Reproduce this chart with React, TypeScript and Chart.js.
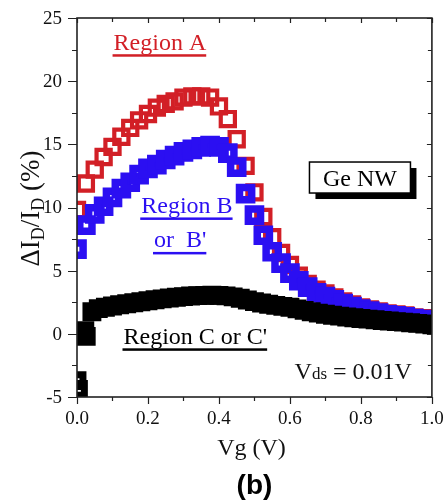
import React, { useEffect, useRef } from 'react';
import { Chart, registerables } from 'chart.js';

Chart.register(...registerables);

const SERIF = "'Liberation Serif', 'Times New Roman', Times, serif";
const SANS = "'Liberation Sans', Arial, Helvetica, sans-serif";

const RED = '#d21f26';
const BLUE = '#2b0ff2';
const BLACK = '#000000';

// Gate voltage (V) for regions A and B
const vgAB = [
  0, 0.025, 0.05, 0.075, 0.1, 0.125, 0.15, 0.175, 0.2, 0.225, 0.25, 0.275, 0.3, 0.325,
  0.35, 0.375, 0.4, 0.425, 0.45, 0.475, 0.5, 0.525, 0.55, 0.575, 0.6, 0.625, 0.65, 0.675,
  0.7, 0.725, 0.75, 0.775, 0.8, 0.825, 0.85, 0.875, 0.9, 0.925, 0.95, 0.975, 1.0,
];

// ΔI_D/I_D (%) for region A
const regionA = [
  9.8, 11.9, 13.0, 14.0, 14.8, 15.6, 16.3, 16.9, 17.4, 17.9, 18.2, 18.4, 18.7, 18.8,
  18.8, 18.7, 18.0, 17.0, 15.4, 13.3, 11.2, 9.25, 7.65, 6.4, 5.45, 4.6, 3.95, 3.5,
  3.2, 2.89, 2.57, 2.33, 2.1, 1.94, 1.78, 1.62, 1.54, 1.46, 1.3, 1.23, 1.15,
];

// ΔI_D/I_D (%) for region B / B'
const regionB = [
  6.7, 8.6, 9.5, 10.1, 10.8, 11.5, 12.0, 12.6, 13.1, 13.4, 13.8, 14.1, 14.4, 14.6,
  14.8, 14.9, 14.8, 14.3, 13.2, 11.1, 9.4, 7.8, 6.5, 5.6, 4.8, 4.2, 3.7, 3.25,
  2.95, 2.7, 2.4, 2.15, 1.95, 1.8, 1.65, 1.5, 1.42, 1.35, 1.2, 1.12, 1.05,
];

// Gate voltage (V) for region C
const vgC = [
  0, 0.004, 0.022, 0.026, 0.042,
  0.06, 0.08, 0.1, 0.12, 0.14, 0.16, 0.18, 0.2, 0.22, 0.24, 0.26, 0.28, 0.3, 0.32,
  0.34, 0.36, 0.38, 0.4, 0.42, 0.44, 0.46, 0.48, 0.5, 0.52, 0.54, 0.56, 0.58, 0.6,
  0.62, 0.64, 0.66, 0.68, 0.7, 0.72, 0.74, 0.76, 0.78, 0.8, 0.82, 0.84, 0.86, 0.88,
  0.9, 0.92, 0.94, 0.96, 0.98, 1.0,
];

// ΔI_D/I_D (%) for region C / C'
const regionC = [
  -3.7, -4.4, 0.25, -0.2, 1.75,
  2.0, 2.1, 2.2, 2.3, 2.38, 2.46, 2.54, 2.62, 2.7, 2.77, 2.84, 2.9, 2.95, 2.99,
  3.02, 3.04, 3.05, 3.04, 3.0, 2.93, 2.82, 2.68, 2.55, 2.44, 2.34, 2.25, 2.17, 2.1,
  1.98, 1.86, 1.75, 1.64, 1.55, 1.47, 1.4, 1.33, 1.27, 1.21, 1.16, 1.11, 1.06, 1.02,
  0.97, 0.93, 0.88, 0.83, 0.78, 0.72,
];

const xMajorTicks = [0, 0.2, 0.4, 0.6, 0.8, 1.0];
const xTickLabels = ['0.0', '0.2', '0.4', '0.6', '0.8', '1.0'];
const xMinorTicks = [0.1, 0.3, 0.5, 0.7, 0.9];
const yMajorTicks = [-5, 0, 5, 10, 15, 20, 25];
const yTickLabels = ['-5', '0', '5', '10', '15', '20', '25'];
const yMinorTicks = [-2.5, 2.5, 7.5, 12.5, 17.5, 22.5];

type Run = { text: string; size: number; dy?: number };

function fontFor(size: number) {
  return `${size}px ${SERIF}`;
}

function runsWidth(ctx: CanvasRenderingContext2D, runs: Run[]) {
  let w = 0;
  for (const r of runs) {
    ctx.font = fontFor(r.size);
    w += ctx.measureText(r.text).width;
  }
  return w;
}

function drawRuns(
  ctx: CanvasRenderingContext2D,
  runs: Run[],
  x: number,
  y: number,
  align: 'left' | 'center'
) {
  const w = runsWidth(ctx, runs);
  let cx = align === 'center' ? x - w / 2 : x;
  ctx.textAlign = 'left';
  ctx.textBaseline = 'alphabetic';
  for (const r of runs) {
    ctx.font = fontFor(r.size);
    ctx.fillText(r.text, cx, y + (r.dy || 0));
    cx += ctx.measureText(r.text).width;
  }
  return w;
}

function underlinedLabel(
  ctx: CanvasRenderingContext2D,
  text: string,
  color: string,
  x: number,
  y: number,
  gap: number,
  thickness: number
) {
  ctx.fillStyle = color;
  const w = drawRuns(ctx, [{ text, size: 24 }], x, y, 'left');
  ctx.fillRect(x - 1, y + gap, w + 1, thickness);
}

const framePlugin = {
  id: 'frame',
  afterDraw(chart: any) {
    const { ctx, chartArea: a, scales } = chart;
    const xs = scales.x;
    const ys = scales.y;
    const px = (v: number) => xs.getPixelForValue(v);
    const py = (v: number) => ys.getPixelForValue(v);

    ctx.save();

    // plot frame
    ctx.strokeStyle = '#222';
    ctx.lineWidth = 1.6;
    ctx.strokeRect(a.left, a.top, a.right - a.left, a.bottom - a.top);

    // ticks: outward on left/bottom, inward on top/right
    ctx.lineWidth = 1.2;
    ctx.beginPath();
    const xTick = (v: number, outLen: number, inLen: number) => {
      const p = Math.round(px(v)) + 0.5;
      ctx.moveTo(p, a.bottom);
      ctx.lineTo(p, a.bottom + outLen);
      ctx.moveTo(p, a.top);
      ctx.lineTo(p, a.top + inLen);
    };
    const yTick = (v: number, outLen: number, inLen: number) => {
      const p = Math.round(py(v)) + 0.5;
      ctx.moveTo(a.left, p);
      ctx.lineTo(a.left - outLen, p);
      ctx.moveTo(a.right, p);
      ctx.lineTo(a.right - inLen, p);
    };
    xMajorTicks.forEach((v) => xTick(v, 7, 5));
    xMinorTicks.forEach((v) => xTick(v, 4, 4));
    yMajorTicks.forEach((v) => yTick(v, 9, 5));
    yMinorTicks.forEach((v) => yTick(v, 5, 4));
    ctx.stroke();

    // tick labels
    ctx.fillStyle = '#111';
    ctx.font = fontFor(19);
    ctx.textAlign = 'center';
    ctx.textBaseline = 'alphabetic';
    xMajorTicks.forEach((v, i) => ctx.fillText(xTickLabels[i], px(v), a.bottom + 27));
    ctx.textAlign = 'right';
    ctx.textBaseline = 'middle';
    yMajorTicks.forEach((v, i) => ctx.fillText(yTickLabels[i], a.left - 15, py(v) + 1));

    // axis titles
    ctx.fillStyle = '#111';
    drawRuns(ctx, [{ text: 'Vg (V)', size: 24 }], (a.left + a.right) / 2 - 3, a.bottom + 58, 'center');

    ctx.save();
    ctx.translate(a.left - 38, (a.top + a.bottom) / 2 + 1);
    ctx.rotate(-Math.PI / 2);
    drawRuns(
      ctx,
      [
        { text: 'ΔI', size: 27 },
        { text: 'D', size: 18, dy: 5 },
        { text: '/I', size: 27 },
        { text: 'D', size: 18, dy: 5 },
        { text: ' (%)', size: 27 },
      ],
      0,
      0,
      'center'
    );
    ctx.restore();

    // panel tag
    ctx.fillStyle = '#000';
    ctx.font = `bold 28px ${SANS}`;
    ctx.textAlign = 'center';
    ctx.textBaseline = 'alphabetic';
    ctx.fillText('(b)', (a.left + a.right) / 2, a.bottom + 97);

    // region labels
    underlinedLabel(ctx, 'Region A', RED, px(0.103), py(22.45), 4, 2.5);
    underlinedLabel(ctx, 'Region B', BLUE, px(0.181), py(9.57), 4.5, 2.5);
    underlinedLabel(ctx, "or  B'", BLUE, px(0.217), py(6.88), 5, 2.5);
    underlinedLabel(ctx, "Region C or C'", BLACK, px(0.131), py(-0.79), 4.5, 2.5);

    // bias condition
    ctx.fillStyle = '#111';
    drawRuns(
      ctx,
      [
        { text: 'V', size: 24 },
        { text: 'ds', size: 17 },
        { text: ' = 0.01V', size: 24 },
      ],
      px(0.613),
      py(-3.56),
      'left'
    );

    // sample box with drop shadow
    const bx = px(0.655);
    const by = py(13.6);
    const bw = 101;
    const bh = 31;
    ctx.fillStyle = '#000';
    ctx.fillRect(bx + 6, by + 6, bw, bh);
    ctx.fillStyle = '#fff';
    ctx.fillRect(bx, by, bw, bh);
    ctx.strokeStyle = '#000';
    ctx.lineWidth = 1.5;
    ctx.strokeRect(bx, by, bw, bh);
    ctx.fillStyle = '#000';
    drawRuns(ctx, [{ text: 'Ge NW', size: 24 }], bx + bw / 2, by + 24, 'center');

    ctx.restore();
  },
};

export default function App() {
  const canvasRef = useRef<HTMLCanvasElement | null>(null);

  useEffect(() => {
    const canvas = canvasRef.current;
    if (!canvas) return;

    const squares = (
      label: string,
      xs: number[],
      ys: number[],
      color: string,
      radius: number,
      border: number,
      order: number
    ) => ({
      label,
      data: xs.map((x, i) => ({ x, y: ys[i] })),
      showLine: false,
      pointStyle: 'rect',
      pointRadius: radius,
      pointHoverRadius: radius,
      pointBorderWidth: border,
      pointHoverBorderWidth: border,
      pointBorderColor: color,
      pointBackgroundColor: 'rgba(0,0,0,0)',
      borderColor: color,
      backgroundColor: 'rgba(0,0,0,0)',
      clip: 0,
      order,
    });

    const chart = new Chart(canvas, {
      type: 'scatter',
      data: {
        datasets: [
          squares("Region C or C'", vgC, regionC, BLACK, 8.4, 7, 1),
          squares("Region B or B'", vgAB, regionB, BLUE, 8.6, 7.5, 2),
          squares('Region A', vgAB, regionA, RED, 10, 4.2, 3),
        ],
      },
      options: {
        responsive: false,
        animation: false,
        events: [],
        layout: { padding: { left: 77, right: 12, top: 18, bottom: 106 } },
        plugins: {
          legend: { display: false },
          tooltip: { enabled: false },
        },
        scales: {
          x: { type: 'linear', min: 0, max: 1, display: false },
          y: { type: 'linear', min: -5, max: 25, display: false },
        },
      },
      plugins: [framePlugin],
    } as any);

    return () => chart.destroy();
  }, []);

  return (
    <div
      style={{
        position: 'fixed',
        left: 0,
        top: 0,
        width: 448,
        height: 503,
        background: '#fff',
      }}
    >
      <canvas ref={canvasRef} width={448} height={503} style={{ display: 'block' }} />
    </div>
  );
}
